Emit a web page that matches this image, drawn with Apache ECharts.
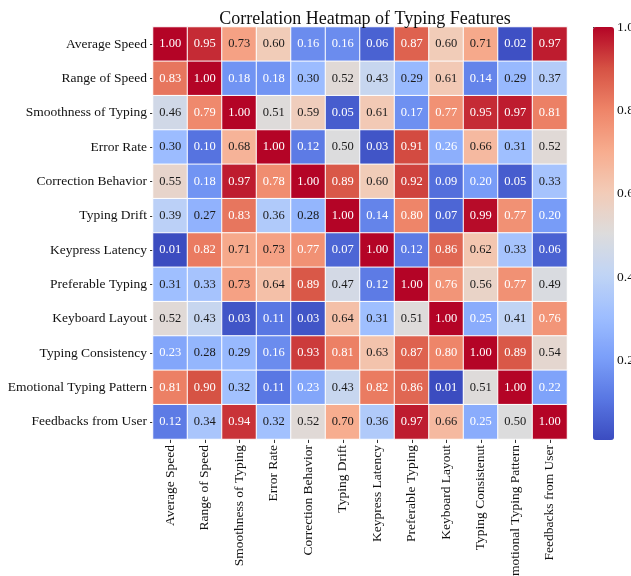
<!DOCTYPE html>
<html>
<head>
<meta charset="utf-8">
<script src="https://cdn.jsdelivr.net/npm/echarts@6/dist/echarts.min.js"></script>
<style>
  html, body { margin: 0; padding: 0; background: #fff; }
  #chart { width: 631px; height: 576px; }
</style>
</head>
<body>
<div id="chart"></div>
<script>
// Feature names on each axis (the column list keeps its own spelling)
const rowLabels = [
  'Average Speed', 'Range of Speed', 'Smoothness of Typing', 'Error Rate',
  'Correction Behavior', 'Typing Drift', 'Keypress Latency', 'Preferable Typing',
  'Keyboard Layout', 'Typing Consistency', 'Emotional Typing Pattern', 'Feedbacks from User'
];
const colLabels = [
  'Average Speed', 'Range of Speed', 'Smoothness of Typing', 'Error Rate',
  'Correction Behavior', 'Typing Drift', 'Keypress Latency', 'Preferable Typing',
  'Keyboard Layout', 'Typing Consistenut', 'Emotional Typing Pattern', 'Feedbacks from User'
];

// Correlation values, one array per row
const rowAverageSpeed      = [1.00, 0.95, 0.73, 0.60, 0.16, 0.16, 0.06, 0.87, 0.60, 0.71, 0.02, 0.97];
const rowRangeOfSpeed      = [0.83, 1.00, 0.18, 0.18, 0.30, 0.52, 0.43, 0.29, 0.61, 0.14, 0.29, 0.37];
const rowSmoothness        = [0.46, 0.79, 1.00, 0.51, 0.59, 0.05, 0.61, 0.17, 0.77, 0.95, 0.97, 0.81];
const rowErrorRate         = [0.30, 0.10, 0.68, 1.00, 0.12, 0.50, 0.03, 0.91, 0.26, 0.66, 0.31, 0.52];
const rowCorrection        = [0.55, 0.18, 0.97, 0.78, 1.00, 0.89, 0.60, 0.92, 0.09, 0.20, 0.05, 0.33];
const rowTypingDrift       = [0.39, 0.27, 0.83, 0.36, 0.28, 1.00, 0.14, 0.80, 0.07, 0.99, 0.77, 0.20];
const rowKeypressLatency   = [0.01, 0.82, 0.71, 0.73, 0.77, 0.07, 1.00, 0.12, 0.86, 0.62, 0.33, 0.06];
const rowPreferable        = [0.31, 0.33, 0.73, 0.64, 0.89, 0.47, 0.12, 1.00, 0.76, 0.56, 0.77, 0.49];
const rowKeyboardLayout    = [0.52, 0.43, 0.03, 0.11, 0.03, 0.64, 0.31, 0.51, 1.00, 0.25, 0.41, 0.76];
const rowConsistency       = [0.23, 0.28, 0.29, 0.16, 0.93, 0.81, 0.63, 0.87, 0.80, 1.00, 0.89, 0.54];
const rowEmotional         = [0.81, 0.90, 0.32, 0.11, 0.23, 0.43, 0.82, 0.86, 0.01, 0.51, 1.00, 0.22];
const rowFeedbacks         = [0.12, 0.34, 0.94, 0.32, 0.52, 0.70, 0.36, 0.97, 0.66, 0.25, 0.50, 1.00];

const matrix = [
  rowAverageSpeed, rowRangeOfSpeed, rowSmoothness, rowErrorRate,
  rowCorrection, rowTypingDrift, rowKeypressLatency, rowPreferable,
  rowKeyboardLayout, rowConsistency, rowEmotional, rowFeedbacks
];

// Colour bar tick values
const colorbarTicks = [0.2, 0.4, 0.6, 0.8, 1.0];

// coolwarm colour ramp
const coolwarm = ['#3b4cc0', '#5977e3', '#7b9ff9', '#9ebeff', '#c0d4f5', '#dddcdc',
                  '#f2cbb7', '#f7ac8e', '#ee8468', '#d65244', '#b40426'];

const SERIF = '"Liberation Serif", "DejaVu Serif", serif';
const GRID = { left: 153, top: 27, width: 414, height: 412 };

const cells = [];
matrix.forEach((row, r) => {
  row.forEach((v, c) => {
    const light = v < 0.265 || v > 0.74;
    cells.push({ value: [c, r, v], label: { color: light ? '#ffffff' : '#1a1a1a' } });
  });
});

const chart = echarts.init(document.getElementById('chart'), null, { renderer: 'canvas' });
chart.setOption({
  backgroundColor: '#ffffff',
  animation: false,
  title: {
    text: 'Correlation Heatmap of Typing Features',
    left: GRID.left + GRID.width / 2,
    textAlign: 'center',
    top: 5,
    textStyle: { fontFamily: SERIF, fontSize: 18, fontWeight: 'normal', color: '#111' }
  },
  grid: [
    { left: GRID.left, top: GRID.top, width: GRID.width, height: GRID.height,
      containLabel: false, outerBoundsMode: 'none' },
    { left: 593, top: 27, width: 21, height: 413, containLabel: false, outerBoundsMode: 'none' }
  ],
  xAxis: [
    {
      type: 'category', gridIndex: 0, data: colLabels, position: 'bottom',
      axisLine: { show: false },
      axisTick: { show: true, alignWithLabel: true, length: 4, lineStyle: { color: '#333' } },
      axisLabel: { rotate: 90, interval: 0, margin: 6, fontFamily: SERIF, fontSize: 13.5, color: '#111' },
      splitLine: { show: false }
    },
    { type: 'value', gridIndex: 1, show: false, min: 0, max: 1 }
  ],
  yAxis: [
    {
      type: 'category', gridIndex: 0, data: rowLabels, inverse: true,
      axisLine: { show: false },
      axisTick: { show: true, alignWithLabel: true, length: 3, lineStyle: { color: '#333' } },
      axisLabel: { interval: 0, margin: 6, fontFamily: SERIF, fontSize: 13.5, color: '#111' },
      splitLine: { show: false }
    },
    {
      type: 'value', gridIndex: 1, position: 'right', min: 0.01, max: 1.0,
      axisLine: { show: false },
      axisTick: { show: true, length: 3, customValues: colorbarTicks, lineStyle: { color: '#333' } },
      axisLabel: {
        show: true, customValues: colorbarTicks, margin: 3,
        fontFamily: SERIF, fontSize: 13.5, color: '#111',
        overflow: 'none', width: 40,
        formatter: v => v.toFixed(1)
      },
      splitLine: { show: false }
    }
  ],
  visualMap: {
    type: 'continuous',
    seriesIndex: 0,
    min: 0.01,
    max: 1.0,
    calculable: false,
    orient: 'vertical',
    left: 593,
    top: 27,
    itemWidth: 21,
    itemHeight: 413,
    padding: 0,
    text: null,
    showLabel: false,
    inRange: { color: coolwarm }
  },
  series: [
    {
      type: 'heatmap',
      xAxisIndex: 0,
      yAxisIndex: 0,
      data: cells,
      label: {
        show: true,
        fontFamily: SERIF,
        fontSize: 12.5,
        formatter: p => p.value[2].toFixed(2)
      },
      itemStyle: { borderColor: '#ffffff', borderWidth: 1 },
      emphasis: { disabled: true }
    },
    { type: 'scatter', xAxisIndex: 1, yAxisIndex: 1, data: [] }
  ]
});
</script>
</body>
</html>
